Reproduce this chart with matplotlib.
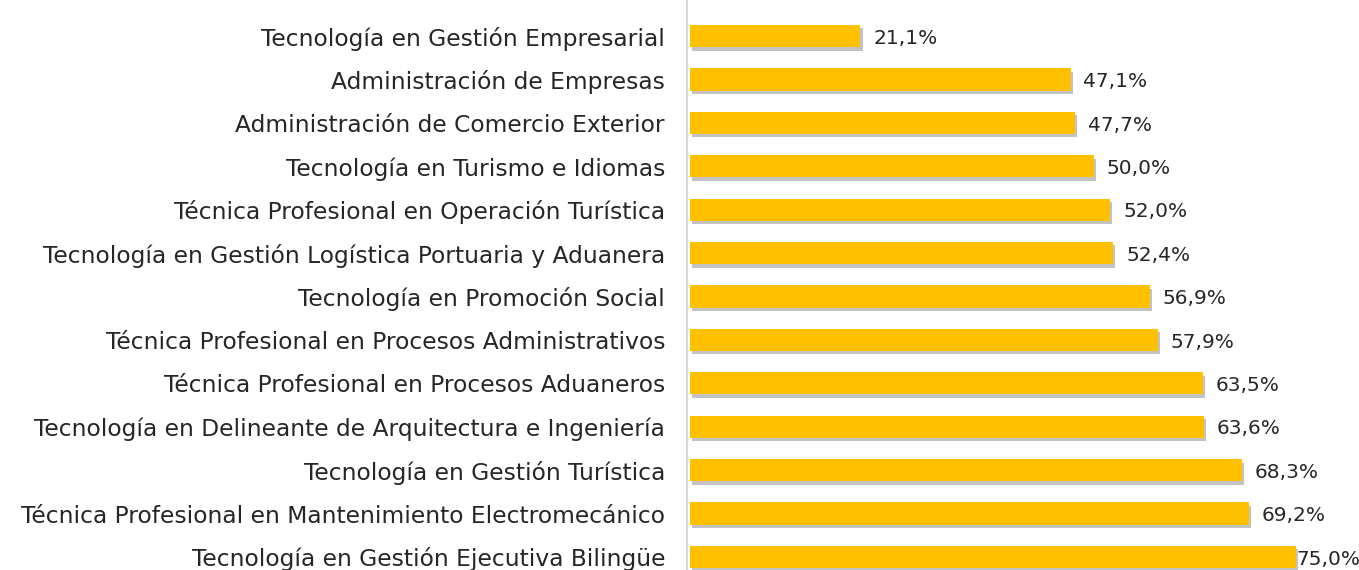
import matplotlib.pyplot as plt
import matplotlib.patheffects as pe

programas = [
    "Tecnología en Gestión Empresarial",
    "Administración de Empresas",
    "Administración de Comercio Exterior",
    "Tecnología en Turismo e Idiomas",
    "Técnica Profesional en Operación Turística",
    "Tecnología en Gestión Logística Portuaria y Aduanera",
    "Tecnología en Promoción Social",
    "Técnica Profesional en Procesos Administrativos",
    "Técnica Profesional en Procesos Aduaneros",
    "Tecnología en Delineante de Arquitectura e Ingeniería",
    "Tecnología en Gestión Turística",
    "Técnica Profesional en Mantenimiento Electromecánico",
    "Tecnología en Gestión Ejecutiva Bilingüe",
]
porcentajes = [21.1, 47.1, 47.7, 50.0, 52.0, 52.4, 56.9, 57.9, 63.5, 63.6, 68.3, 69.2, 75.0]
etiquetas = [f"{v:.1f}%".replace(".", ",") for v in porcentajes]

plt.rcParams['font.family'] = ['DejaVu Sans']

fig = plt.figure(figsize=(13.59, 5.70), dpi=100)
ax = fig.add_axes([690 / 1359, 0, 669 / 1359, 1])

y = list(range(len(programas)))
bars = ax.barh(y, porcentajes, height=0.51, color='#FFC000', zorder=2)
for b in bars:
    b.set_path_effects([pe.SimplePatchShadow(offset=(1.5, -2.5), shadow_rgbFace='#555555', alpha=0.35),
                        pe.Normal()])

ax.set_xlim(0, 82.8)
ax.set_ylim(12.3, -0.83)

for i, (v, t) in enumerate(zip(porcentajes, etiquetas)):
    off = 0.0 if i == len(porcentajes) - 1 else 1.6
    ax.text(v + off, i + 0.05, t, va='center', ha='left', fontsize=14.5, color='#262626')

ax.set_yticks(y)
ax.set_yticklabels(programas)
ax.tick_params(axis='y', length=0, pad=16, labelsize=16.8, labelcolor='#262626')
ax.set_xticks([])
for s in ['top', 'right', 'bottom']:
    ax.spines[s].set_visible(False)
ax.spines['left'].set_color('#d9d9d9')
ax.spines['left'].set_linewidth(1.5)
ax.spines['left'].set_position(('outward', 2))

fig.savefig('out.png', dpi=100)
